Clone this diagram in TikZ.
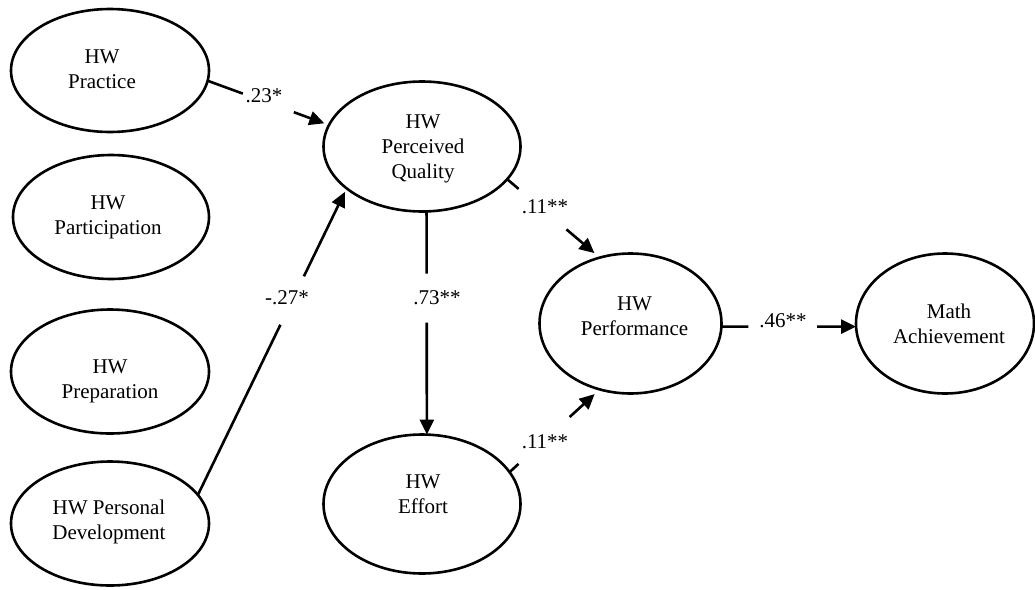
\documentclass[tikz,border=0pt]{standalone}
\usepackage{fontspec}
\setmainfont{Liberation Serif}
\usetikzlibrary{arrows.meta,shapes.geometric}
\begin{document}
\begin{tikzpicture}[x=1pt,y=-1pt,
  latent/.style={draw,ellipse,line width=2.6pt,inner sep=0pt,outer sep=0pt},
  vartext/.style={align=center,font=\fontsize{21}{25}\selectfont,inner sep=0pt},
  coef/.style={font=\fontsize{21}{25}\selectfont,inner sep=0pt},
  link/.style={line width=2.6pt},
  arrowlink/.style={link,-{Triangle[length=15pt,width=14pt]}}]
\useasboundingbox (0,0) rectangle (1035,589);

% latent variables
\node[latent,minimum width=198pt,minimum height=123pt] (practice) at (110,70.5) {};
\node[latent,minimum width=196pt,minimum height=124pt] (participation) at (111,217) {};
\node[latent,minimum width=198pt,minimum height=124pt] (preparation) at (110,371.5) {};
\node[latent,minimum width=198pt,minimum height=124pt] (personal) at (110,523.5) {};
\node[latent,minimum width=197pt,minimum height=130pt] (quality) at (422,146.5) {};
\node[latent,minimum width=197pt,minimum height=139pt] (effort) at (422,504) {};
\node[latent,minimum width=182pt,minimum height=140pt] (performance) at (630.5,323.5) {};
\node[latent,minimum width=178pt,minimum height=140pt] (math) at (945,323.5) {};

% variable names
\node[vartext] (practicetxt) at ([shift={(-8,-1.5)}]practice.center) {HW\\Practice};
\node[vartext] (participationtxt) at ([shift={(-3,0)}]participation.center) {HW\\Participation};
\node[vartext] (preparationtxt) at ([shift={(0,10)}]preparation.center) {HW\\Preparation};
\node[vartext] (personaltxt) at ([shift={(-1,-1.5)}]personal.center) {HW Personal\\Development};
\node[vartext] (qualitytxt) at ([shift={(1,2)}]quality.center) {HW\\Perceived\\Quality};
\node[vartext] (efforttxt) at ([shift={(1,-10)}]effort.center) {HW\\Effort};
\node[vartext] (performancetxt) at ([shift={(4,-7)}]performance.center) {HW\\Performance};
\node[vartext] (mathtxt) at ([shift={(4,0)}]math.center) {Math\\Achievement};

% paths, each broken where its coefficient sits
\path (practice.-6) -- coordinate[pos=0.29] (a1) coordinate[pos=0.71] (a2) (quality.167);
\draw[link] (practice.-6) -- (a1);
\draw[arrowlink,shorten >=5pt] (a2) -- (quality.167);

\path (personal.18) -- coordinate[pos=0.555] (b1) coordinate[pos=0.713] (b2) (quality.209);
\draw[link] (personal.18) -- (b1);
\draw[arrowlink,shorten >=4pt] (b2) -- (quality.209);

\path (quality.-86) -- coordinate[pos=0.279] (c1) coordinate[pos=0.498] (c2) (effort.86);
\draw[link] (quality.-86) -- (c1);
\draw[arrowlink] (c2) -- (effort.86);

\path (quality.-21) -- coordinate[pos=0.124] (d1) coordinate[pos=0.64] (d2) (performance.115);
\draw[link] (quality.-21) -- (d1);
\draw[arrowlink,shorten >=7pt] (d2) -- (performance.115);

\path (effort.20) -- coordinate[pos=0.10] (e1) coordinate[pos=0.666] (e2) (performance.245);
\draw[link] (effort.20) -- (e1);
\draw[arrowlink,shorten >=7pt] (e2) -- (performance.245);

\path (performance.-2) -- coordinate[pos=0.20] (f1) coordinate[pos=0.71] (f2) (math.182);
\draw[link] (performance.-2) -- (f1);
\draw[arrowlink] (f2) -- (math.182);

% path coefficients
\node[coef] (coefa) at (264,96) {.23*};
\node[coef] (coefb) at (287,298) {-.27*};
\node[coef] (coefc) at (437,298) {.73**};
\node[coef] (coefd) at (545,207) {.11**};
\node[coef] (coefe) at (545,442) {.11**};
\node[coef] (coeff) at (783,321) {.46**};
\end{tikzpicture}
\end{document}
